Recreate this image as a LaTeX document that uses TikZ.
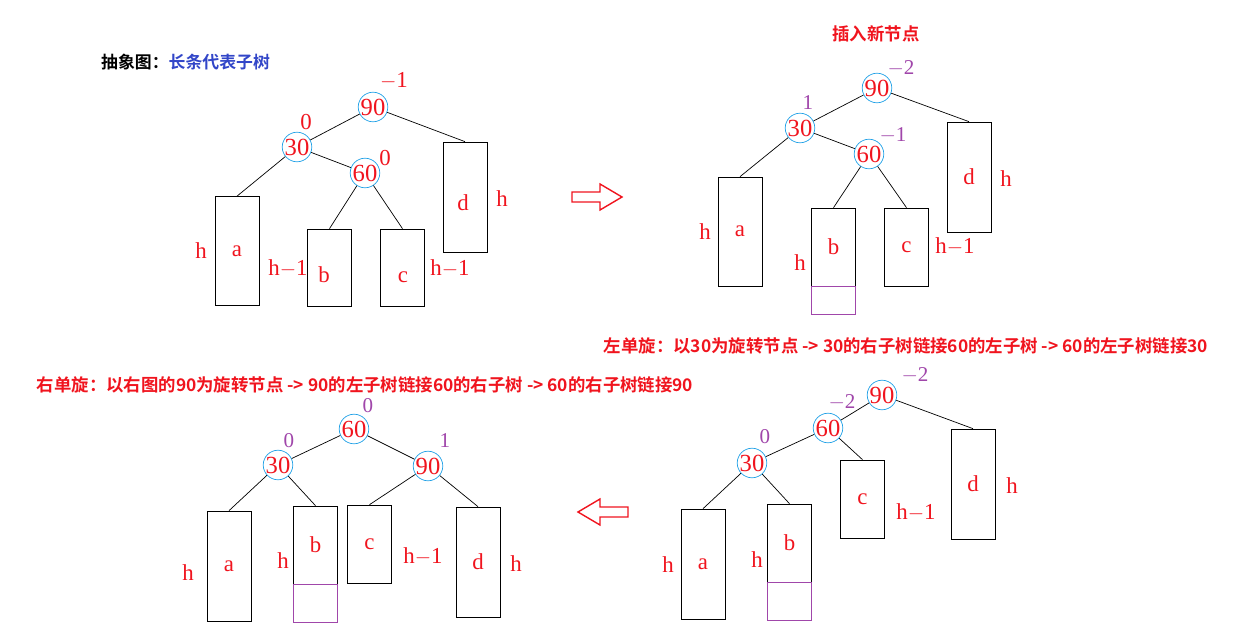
\documentclass[tikz,border=0pt]{standalone}
\usepackage{fontspec}
\setmainfont{Liberation Serif}
\newfontfamily\cjk{Noto Sans CJK SC}[BoldFont={Noto Sans CJK SC Bold}]
\usetikzlibrary{positioning}
\definecolor{keyred}{RGB}{240,20,30}
\definecolor{ringblue}{RGB}{30,160,230}
\definecolor{balpurple}{RGB}{160,70,170}
\definecolor{titleblue}{RGB}{50,70,200}
\tikzset{
  keynode/.style={circle, draw=ringblue, thin, minimum size=0.56cm, inner sep=0pt,
    text=keyred, font=\fontsize{14}{14}\selectfont},
  subtree/.style={draw, thin, minimum width=0.88cm, text=keyred,
    font=\fontsize{13}{13}\selectfont},
  newleaf/.style={draw=balpurple, thin, minimum width=0.88cm},
  hlabel/.style={text=keyred, font=\fontsize{13}{13}\selectfont},
  factor/.style={text=balpurple, font=\fontsize{12}{12}\selectfont},
  redfactor/.style={text=keyred, font=\fontsize{13}{13}\selectfont},
  caption/.style={text=keyred, font=\cjk\bfseries\fontsize{9.9}{9.9}\selectfont},
  link/.style={thin}
}
\begin{document}
\begin{tikzpicture}[x=0.02cm, y=-0.02cm]
\useasboundingbox (0,0) rectangle (1255,642);

% top left tree
\node[font=\cjk\bfseries\fontsize{9.6}{9.6}\selectfont, anchor=west] (title) at (95,62) {抽象图：\textcolor{titleblue}{长条代表子树}};
\node[keynode] (n90) at (373,107) {90};
\node[keynode] (n30) at (297,147) {30};
\node[keynode] (n60) at (365,173) {60};
\node[subtree, minimum height=2.18cm] (ta) at (237,251) {a};
\node[subtree, minimum height=1.54cm] (tb) at (329.5,267.5) {};
\node[subtree, minimum height=1.54cm] (tc) at (402.5,267.5) {};
\node[subtree, minimum height=2.2cm] (td) at (465,197) {};
\node[hlabel] at (324,275) {b};
\node[hlabel] at (403,277) {c};
\node[hlabel] at (463,203) {d};
\node[redfactor] at (394,81) {$-$1};
\node[redfactor] at (306,122) {0};
\node[redfactor] at (385,158) {0};
\node[hlabel] at (201,251) {h};
\node[hlabel] at (288,268) {h$-$1};
\node[hlabel] at (450,268) {h$-$1};
\node[hlabel] at (502,199) {h};
\draw[link] (n90) -- (n30);
\draw[link] (n90) -- (td.north);
\draw[link] (n30) -- (n60);
\draw[link] (n30) -- (ta.north);
\draw[link] (n60) -- (tb.north);
\draw[link] (n60) -- (tc.north);

% arrow to the right
\draw[keyred, thick] (572,192) -- (600,192) -- (600,184) -- (622,197) -- (600,210) -- (600,202) -- (572,202) -- cycle;

% top right tree
\node[caption] (insert) at (876,34) {插入新节点};
\node[keynode] (m90) at (877,88) {90};
\node[keynode] (m30) at (800,128) {30};
\node[keynode] (m60) at (869,154) {60};
\node[subtree, minimum height=2.18cm] (ua) at (740,231.5) {a};
\node[subtree, minimum height=1.56cm] (ub) at (833.5,247) {b};
\node[newleaf, minimum height=0.56cm] (ux) at (833.5,300) {};
\node[subtree, minimum height=1.56cm] (uc) at (906.5,247) {c};
\node[subtree, minimum height=2.2cm] (ud) at (969,177) {d};
\node[factor] at (901,68) {$-$2};
\node[factor] at (808,103) {1};
\node[factor] at (893,135) {$-$1};
\node[hlabel] at (705,232) {h};
\node[hlabel] at (800,263) {h};
\node[hlabel] at (955,246) {h$-$1};
\node[hlabel] at (1006,179) {h};
\draw[link] (m90) -- (m30);
\draw[link] (m90) -- (ud.north);
\draw[link] (m30) -- (m60);
\draw[link] (m30) -- (ua.north);
\draw[link] (m60) -- (ub.north);
\draw[link] (m60) -- (uc.north);
\node[caption] (leftrot) at (906,346) {左单旋：以30为旋转节点 -> 30的右子树链接60的左子树 -> 60的左子树链接30};

% bottom right tree
\node[keynode] (r90) at (882,395) {90};
\node[keynode] (r60) at (828,428) {60};
\node[keynode] (r30) at (752,463) {30};
\node[subtree, minimum height=2.2cm] (va) at (703,564) {a};
\node[subtree, minimum height=1.56cm] (vb) at (789.5,543) {b};
\node[newleaf, minimum height=0.76cm] (vx) at (789.5,601) {};
\node[subtree, minimum height=1.56cm] (vc) at (862.5,499) {c};
\node[subtree, minimum height=2.2cm] (vd) at (973,484) {d};
\node[factor] at (915,375) {$-$2};
\node[factor] at (842,402) {$-$2};
\node[factor] at (765,437) {0};
\node[hlabel] at (668,565) {h};
\node[hlabel] at (757,560) {h};
\node[hlabel] at (916,512) {h$-$1};
\node[hlabel] at (1012,486) {h};
\draw[link] (r90) -- (r60);
\draw[link] (r90) -- (vd.north);
\draw[link] (r60) -- (r30);
\draw[link] (r60) -- (vc.north);
\draw[link] (r30) -- (va.north);
\draw[link] (r30) -- (vb.north);

% arrow to the left
\draw[keyred, thick] (628,507) -- (600,507) -- (600,499) -- (578,512) -- (600,525) -- (600,517) -- (628,517) -- cycle;

% bottom left tree
\node[caption] (rightrot) at (365,385) {右单旋：以右图的90为旋转节点 -> 90的左子树链接60的右子树 -> 60的右子树链接90};
\node[keynode] (s60) at (354,429) {60};
\node[keynode] (s30) at (278,465) {30};
\node[keynode] (s90) at (428,466) {90};
\node[subtree, minimum height=2.2cm] (wa) at (229,566) {a};
\node[subtree, minimum height=1.56cm] (wb) at (315.5,545) {b};
\node[newleaf, minimum height=0.76cm] (wx) at (315.5,603) {};
\node[subtree, minimum height=1.56cm] (wc) at (369.5,544) {c};
\node[subtree, minimum height=2.2cm] (wd) at (478,562) {d};
\node[factor] at (368,406) {0};
\node[factor] at (289,441) {0};
\node[factor] at (445,441) {1};
\node[hlabel] at (188,573) {h};
\node[hlabel] at (283,561) {h};
\node[hlabel] at (423,556) {h$-$1};
\node[hlabel] at (516,564) {h};
\draw[link] (s60) -- (s30);
\draw[link] (s60) -- (s90);
\draw[link] (s30) -- (wa.north);
\draw[link] (s30) -- (wb.north);
\draw[link] (s90) -- (wc.north);
\draw[link] (s90) -- (wd.north);
\end{tikzpicture}
\end{document}
